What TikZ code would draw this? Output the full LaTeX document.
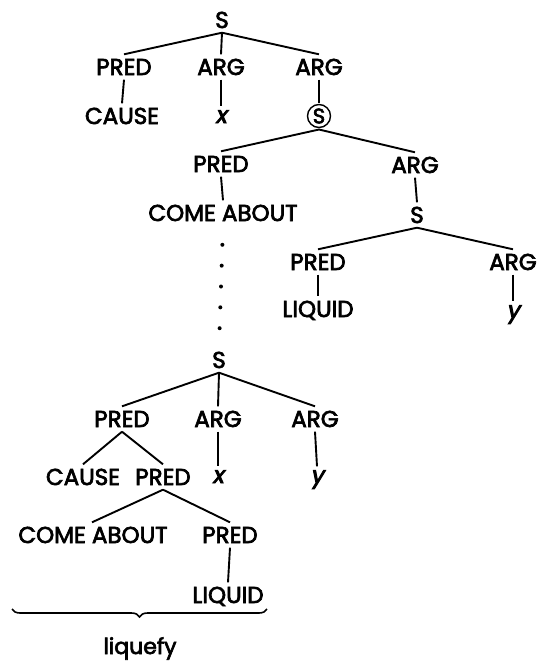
\documentclass[tikz,border=0pt]{standalone}
\usepackage{fontspec}
\setmainfont{Poppins}[FakeBold=3]
\newfontfamily\varfont{Poppins}[FakeSlant=0.2,FakeBold=4]
\usetikzlibrary{calc,decorations.pathreplacing}
\begin{document}
\begin{tikzpicture}[x=1pt,y=-1pt,
  lbl/.style={font=\fontsize{23}{23}\selectfont, inner xsep=2pt, inner ysep=4.5pt, text height=16pt, text depth=0pt},
  var/.style={font=\fontsize{23}{23}\selectfont\varfont, inner xsep=2pt, inner ysep=4.5pt, text height=12pt, text depth=0pt},
  circ/.style={draw, circle, line width=1.4pt, inner sep=0.5pt, minimum size=23pt, outer sep=2pt, font=\fontsize{21}{21}\selectfont},
  edge/.style={line width=1.9pt}]
\useasboundingbox (0,0) rectangle (537,662);
% upper tree
\node[lbl] (s1) at (222,20) {S};
\node[lbl] (p1) at (124,67) {PRED};
\node[lbl] (a1) at (221,67) {ARG};
\node[lbl] (a2) at (319,67) {ARG};
\node[lbl] (cause1) at (122,116) {CAUSE};
\node[var] (x1) at (221,117) {x};
\node[circ] (s2) at (319,116) {S};
\node[lbl] (p2) at (221,164) {PRED};
\node[lbl] (a3) at (415,165) {ARG};
\node[lbl] (come1) at (223,213) {COME ABOUT};
\node[lbl] (s3) at (417,215) {S};
\node[lbl] (p3) at (318,262) {PRED};
\node[lbl] (a4) at (513,262) {ARG};
\node[lbl] (liq1) at (318,309) {LIQUID};
\node[var] (y1) at (513,312) {y};
% lower tree
\node[lbl] (s4) at (219,360) {S};
\node[lbl] (p4) at (122,419) {PRED};
\node[lbl] (a5) at (218,419) {ARG};
\node[lbl] (a6) at (315,419) {ARG};
\node[lbl] (cause2) at (83,477) {CAUSE};
\node[lbl] (p5) at (163,477) {PRED};
\node[var] (x2) at (218,477) {x};
\node[var] (y2) at (317,477) {y};
\node[lbl] (come2) at (93,535) {COME ABOUT};
\node[lbl] (p6) at (230,535) {PRED};
\node[lbl] (liq2) at (228,595) {LIQUID};
\node[lbl, font=\fontsize{22}{22}\selectfont] (liq) at (140,646) {liquefy};
% edges
\draw[edge] (s1.south) -- (p1.north);
\draw[edge] (s1.south) -- (a1.north);
\draw[edge] (s1.south) -- (a2.north);
\draw[edge] (p1.south) -- (cause1.north);
\draw[edge] (a1.south) -- (x1.north);
\draw[edge] (a2.south) -- (s2.north);
\draw[edge] (s2.south) -- (p2.north);
\draw[edge] (s2.south) -- (a3.north);
\draw[edge] (p2.south) -- (come1.north);
\draw[edge] (a3.south) -- (s3.north);
\draw[edge] (s3.south) -- (p3.north);
\draw[edge] (s3.south) -- (a4.north);
\draw[edge] (p3.south) -- (liq1.north);
\draw[edge] (a4.south) -- (y1.north);
\foreach \t in {0.157,0.3285,0.5,0.6715,0.843}
  \fill ($(come1.south)!\t!(s4.north)$) circle (2);
\draw[edge] (s4.south) -- (p4.north);
\draw[edge] (s4.south) -- (a5.north);
\draw[edge] (s4.south) -- (a6.north);
\draw[edge] (p4.south) -- (cause2.north);
\draw[edge] (p4.south) -- (p5.north);
\draw[edge] (a5.south) -- (x2.north);
\draw[edge] (a6.south) -- (y2.north);
\draw[edge] (p5.south) -- ($(come2.north)+(-1,0)$);
\draw[edge] (p5.south) -- (p6.north);
\draw[edge] (p6.south) -- (liq2.north);
\coordinate (bl) at (12,609);
\coordinate (br) at (267,609);
\draw[line width=1.6pt, decorate, decoration={brace, mirror, amplitude=8pt}] (bl) -- (br);
\end{tikzpicture}
\end{document}
